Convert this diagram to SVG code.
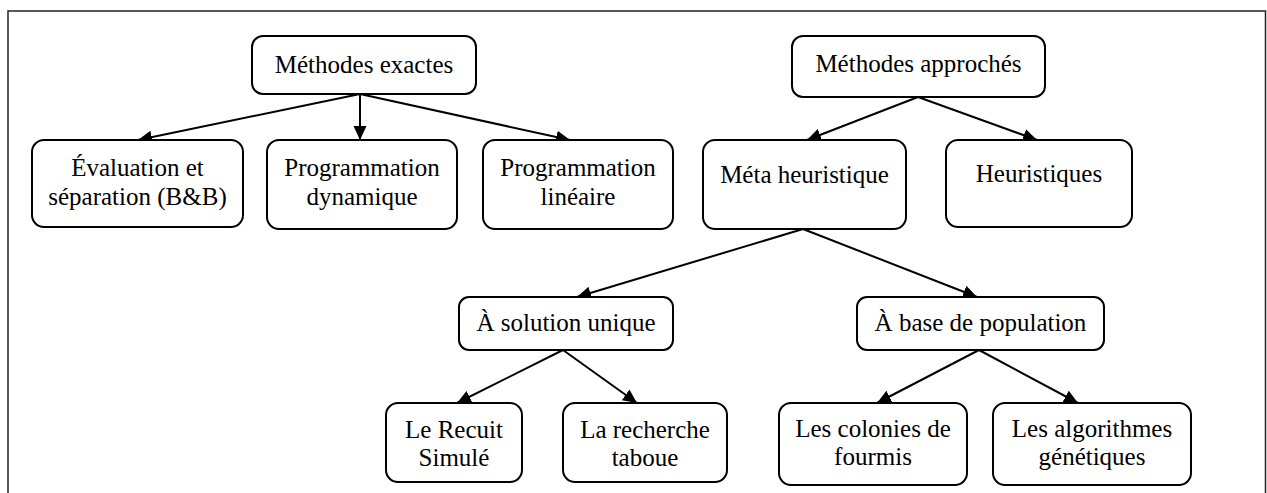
<svg xmlns="http://www.w3.org/2000/svg" width="1267" height="493" viewBox="0 0 1267 493">
  <style>
    .box { fill: #ffffff; stroke: #000000; stroke-width: 2; }
    .lbl { font-size: 25px; fill: #000000; text-anchor: middle; }
    .edge { stroke: #000000; stroke-width: 2; fill: none; marker-end: url(#arrow); }
  </style>
  <defs>
    <marker id="arrow" markerUnits="userSpaceOnUse" markerWidth="16" markerHeight="14" refX="14" refY="7" orient="auto">
      <path d="M0,0.5 L14,7 L0,13.5 z" fill="#000000"/>
    </marker>
  </defs>

  <rect width="1267" height="493" fill="#ffffff"/>
  <!-- outer frame (open at the bottom) -->
  <path d="M8,493 V11 H1265.5 V493" fill="none" stroke="#222222" stroke-width="1.5"/>

  <g id="connectors">
    <line class="edge" x1="360" y1="94" x2="138" y2="140"/>
    <line class="edge" x1="360" y1="94" x2="360" y2="140"/>
    <line class="edge" x1="360" y1="94" x2="570" y2="140"/>
    <line class="edge" x1="918" y1="97" x2="807" y2="140"/>
    <line class="edge" x1="918" y1="97" x2="1037" y2="140"/>
    <line class="edge" x1="803" y1="229" x2="577" y2="297"/>
    <line class="edge" x1="803" y1="229" x2="977" y2="297"/>
    <line class="edge" x1="563" y1="350" x2="457" y2="403"/>
    <line class="edge" x1="563" y1="350" x2="637" y2="403"/>
    <line class="edge" x1="979" y1="350" x2="877" y2="403"/>
    <line class="edge" x1="979" y1="350" x2="1078" y2="403"/>
  </g>

  <g font-family="'Liberation Serif', 'DejaVu Serif', 'Times New Roman', serif">
  <g id="methodes-exactes">
    <rect class="box" x="252" y="36" width="224" height="58" rx="11"/>
    <text class="lbl" x="364" y="73">Méthodes exactes</text>
  </g>
  <g id="evaluation-separation">
    <rect class="box" x="32" y="140" width="211" height="87" rx="12"/>
    <text class="lbl" x="137.5" y="176">Évaluation et</text>
    <text class="lbl" x="137.5" y="205">séparation (B&amp;B)</text>
  </g>
  <g id="programmation-dynamique">
    <rect class="box" x="267" y="140" width="190" height="89" rx="12"/>
    <text class="lbl" x="362" y="176">Programmation</text>
    <text class="lbl" x="362" y="205">dynamique</text>
  </g>
  <g id="programmation-lineaire">
    <rect class="box" x="483" y="140" width="190" height="89" rx="12"/>
    <text class="lbl" x="578" y="176">Programmation</text>
    <text class="lbl" x="578" y="205">linéaire</text>
  </g>

  <g id="methodes-approches">
    <rect class="box" x="792" y="36" width="253" height="61" rx="11"/>
    <text class="lbl" x="918.5" y="72">Méthodes approchés</text>
  </g>
  <g id="meta-heuristique">
    <rect class="box" x="703" y="140" width="203" height="89" rx="12"/>
    <text class="lbl" x="804.5" y="183">Méta heuristique</text>
  </g>
  <g id="heuristiques">
    <rect class="box" x="946" y="140" width="186" height="87" rx="12"/>
    <text class="lbl" x="1039" y="182">Heuristiques</text>
  </g>

  <g id="solution-unique">
    <rect class="box" x="459" y="297" width="214" height="53" rx="10"/>
    <text class="lbl" x="566" y="331">À solution unique</text>
  </g>
  <g id="base-population">
    <rect class="box" x="857" y="297" width="247" height="53" rx="10"/>
    <text class="lbl" x="980.5" y="331">À base de population</text>
  </g>

  <g id="recuit-simule">
    <rect class="box" x="386" y="403" width="136" height="79" rx="12"/>
    <text class="lbl" x="454" y="438">Le Recuit</text>
    <text class="lbl" x="454" y="466">Simulé</text>
  </g>
  <g id="recherche-taboue">
    <rect class="box" x="563" y="403" width="164" height="79" rx="12"/>
    <text class="lbl" x="645" y="438">La recherche</text>
    <text class="lbl" x="645" y="466">taboue</text>
  </g>
  <g id="colonies-fourmis">
    <rect class="box" x="779" y="403" width="188" height="82" rx="12"/>
    <text class="lbl" x="873" y="437">Les colonies de</text>
    <text class="lbl" x="873" y="465">fourmis</text>
  </g>
  <g id="algorithmes-genetiques">
    <rect class="box" x="993" y="403" width="198" height="82" rx="12"/>
    <text class="lbl" x="1092" y="437">Les algorithmes</text>
    <text class="lbl" x="1092" y="465">génétiques</text>
  </g>
  </g>
</svg>
